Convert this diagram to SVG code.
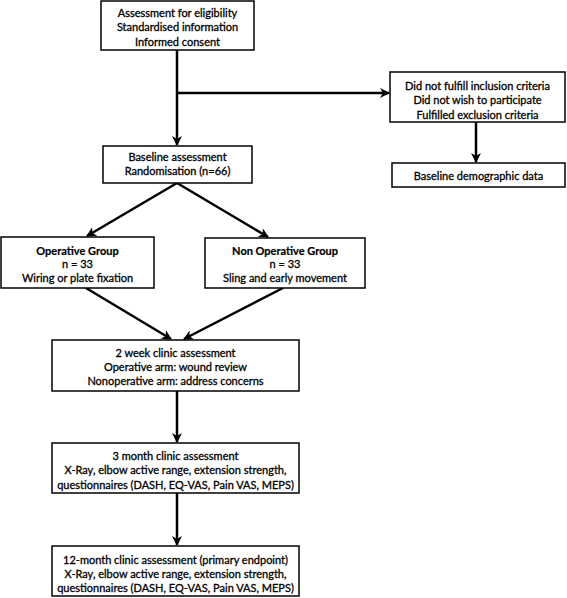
<svg xmlns="http://www.w3.org/2000/svg" width="567" height="598" viewBox="0 0 567 598">
<defs>
<style>
.box{fill:#fff;stroke:#000;stroke-width:1.5}
.t{font-family:Lato,"Open Sans","Liberation Sans",sans-serif;font-weight:normal;font-size:11px;fill:#000;stroke:#000;stroke-width:0.3;text-anchor:middle;dominant-baseline:central}
.b{font-weight:bold;stroke-width:0.2}
.c{fill:none;stroke:#000;stroke-width:2.5}
</style>
<marker id="ah" viewBox="0 0 10 10" refX="9" refY="5" markerWidth="4" markerHeight="4" markerUnits="strokeWidth" orient="auto">
<path d="M0,0 L10,5 L0,10 L3,5 Z" fill="#000"/>
</marker>
</defs>
<g id="connectors">
<line class="c" x1="177" y1="50" x2="177" y2="145" marker-end="url(#ah)"/>
<line class="c" x1="177" y1="93" x2="389" y2="93" marker-end="url(#ah)"/>
<line class="c" x1="476" y1="122" x2="476" y2="162" marker-end="url(#ah)"/>
<line class="c" x1="177" y1="183" x2="87" y2="236" marker-end="url(#ah)"/>
<line class="c" x1="177" y1="183" x2="268" y2="237" marker-end="url(#ah)"/>
<line class="c" x1="86" y1="288" x2="171" y2="339" marker-end="url(#ah)"/>
<line class="c" x1="283" y1="288" x2="184" y2="339" marker-end="url(#ah)"/>
<line class="c" x1="177" y1="391" x2="177" y2="442" marker-end="url(#ah)"/>
<line class="c" x1="177" y1="493" x2="177" y2="545" marker-end="url(#ah)"/>
</g>
<g id="eligibility">
<rect class="box" x="101" y="1" width="153" height="49"/>
<text class="t" x="177.5" y="12">Assessment for eligibility</text>
<text class="t" x="177.5" y="26.5">Standardised information</text>
<text class="t" x="177.5" y="41">Informed consent</text>
</g>
<g id="excluded">
<rect class="box" x="390" y="72" width="175" height="50"/>
<text class="t" x="477.5" y="85">Did not fulfill inclusion criteria</text>
<text class="t" x="477.5" y="99.5">Did not wish to participate</text>
<text class="t" x="477.5" y="114">Fulfilled exclusion criteria</text>
</g>
<g id="demographic">
<rect class="box" x="392" y="163" width="173" height="24"/>
<text class="t" x="478.5" y="175">Baseline demographic data</text>
</g>
<g id="baseline">
<rect class="box" x="103" y="146" width="149" height="37"/>
<text class="t" x="177.5" y="156">Baseline assessment</text>
<text class="t" x="177.5" y="170">Randomisation (n=66)</text>
</g>
<g id="operative">
<rect class="box" x="1" y="237" width="153" height="51"/>
<text class="t b" x="77.5" y="250">Operative Group</text>
<text class="t" x="77.5" y="263.5">n = 33</text>
<text class="t" x="77.5" y="277.5">Wiring or plate fixation</text>
</g>
<g id="nonoperative">
<rect class="box" x="205" y="238" width="160" height="50"/>
<text class="t b" x="285" y="250">Non Operative Group</text>
<text class="t" x="285" y="263.5">n = 33</text>
<text class="t" x="285" y="277.5">Sling and early movement</text>
</g>
<g id="week2">
<rect class="box" x="52" y="340" width="247" height="51"/>
<text class="t" x="175.5" y="352.5">2 week clinic assessment</text>
<text class="t" x="175.5" y="366">Operative arm: wound review</text>
<text class="t" x="175.5" y="380">Nonoperative arm: address concerns</text>
</g>
<g id="month3">
<rect class="box" x="52" y="443" width="247" height="50"/>
<text class="t" x="175.5" y="455">3 month clinic assessment</text>
<text class="t" x="175.5" y="469.5">X-Ray, elbow active range, extension strength,</text>
<text class="t" x="175.5" y="484">questionnaires (DASH, EQ-VAS, Pain VAS, MEPS)</text>
</g>
<g id="month12">
<rect class="box" x="52" y="546" width="247" height="50"/>
<text class="t" x="175.5" y="559">12-month clinic assessment (primary endpoint)</text>
<text class="t" x="175.5" y="573">X-Ray, elbow active range, extension strength,</text>
<text class="t" x="175.5" y="587">questionnaires (DASH, EQ-VAS, Pain VAS, MEPS)</text>
</g>
</svg>
